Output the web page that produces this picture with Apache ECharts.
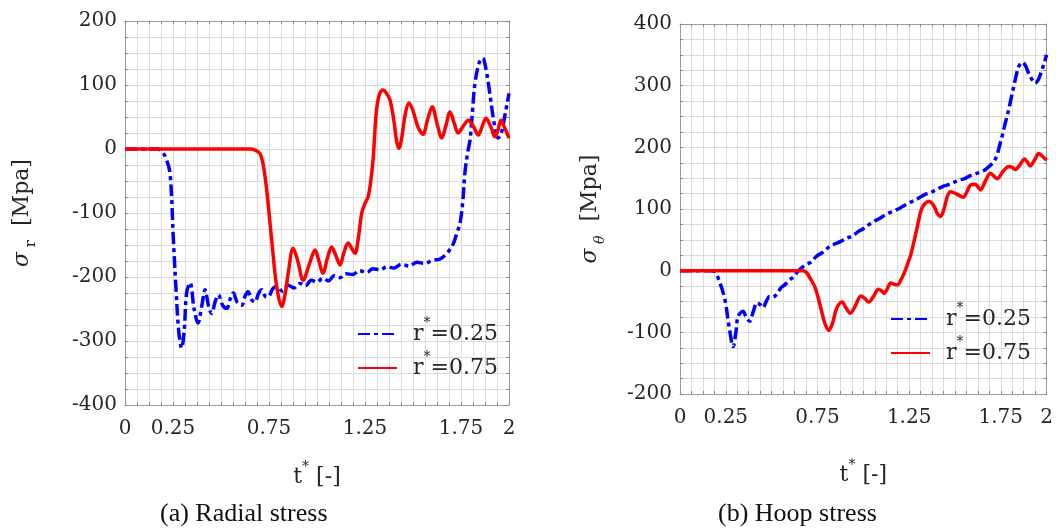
<!DOCTYPE html>
<html><head><meta charset="utf-8">
<script src="https://cdn.jsdelivr.net/npm/echarts@6/dist/echarts.min.js"></script>
<style>html,body{margin:0;padding:0;background:#fff}#c{width:1056px;height:532px}</style>
</head><body><div id="c"></div>
<script>
// ---- Data: (a) Radial stress ----
const radialBlueT = [0,0.1,0.17,0.19,0.21,0.234,0.252,0.266,0.28,0.295,0.308,0.321,0.339,0.36,0.38,0.40,0.417,0.435,0.451,0.47,0.486,0.51,0.53,0.547,0.564,0.585,0.608,0.625,0.641,0.66,0.677,0.695,0.712,0.73,0.745,0.77,0.79,0.82,0.85,0.88,0.911,0.94,0.97,1.0,1.03,1.06,1.09,1.12,1.15,1.188,1.22,1.26,1.29,1.33,1.363,1.4,1.44,1.48,1.52,1.56,1.6,1.64,1.67,1.69,1.71,1.73,1.745,1.76,1.77,1.785,1.797,1.81,1.823,1.845,1.863,1.88,1.90,1.92,1.943,1.96,1.98,2.0];
const radialBlueV = [0,0,0,-3,-12,-37,-142,-220,-285,-311,-285,-225,-209,-250,-272,-245,-220,-245,-257,-238,-228,-245,-249,-235,-225,-240,-244,-230,-223,-236,-239,-226,-220,-230,-231,-218,-215,-222,-213,-217,-210,-214,-205,-208,-202,-206,-198,-201,-195,-196,-190,-193,-187,-189,-184,-186,-180,-183,-177,-179,-174,-172,-165,-158,-148,-130,-116,-80,-38,-5,14,60,103,135,142,125,87,45,17,25,55,87];
const radialRedT = [0,0.6,0.65,0.68,0.703,0.72,0.738,0.764,0.79,0.816,0.835,0.85,0.876,0.90,0.928,0.96,0.99,1.01,1.03,1.055,1.076,1.10,1.12,1.14,1.162,1.18,1.198,1.215,1.233,1.25,1.266,1.28,1.292,1.30,1.31,1.325,1.344,1.36,1.38,1.40,1.415,1.427,1.44,1.46,1.479,1.50,1.525,1.552,1.575,1.60,1.625,1.65,1.67,1.693,1.715,1.735,1.76,1.788,1.815,1.84,1.86,1.88,1.905,1.927,1.943,1.958,1.975,2.0];
const radialRedV = [0,0,0,-2,-7,-25,-64,-142,-215,-246,-225,-194,-155,-175,-205,-180,-158,-175,-194,-170,-153,-168,-181,-162,-147,-155,-163,-140,-100,-85,-75,-50,-17,20,61,85,92,88,77,45,12,1,15,55,72,60,35,23,45,66,40,17,35,58,40,25,35,45,35,22,35,48,35,19,30,45,35,17];

// ---- Data: (b) Hoop stress ----
const hoopBlueT = [0,0.17,0.19,0.217,0.245,0.27,0.29,0.305,0.317,0.344,0.36,0.38,0.40,0.42,0.437,0.453,0.47,0.489,0.505,0.525,0.55,0.571,0.598,0.62,0.643,0.665,0.688,0.715,0.743,0.78,0.815,0.85,0.88,0.91,0.942,0.97,1.0,1.033,1.06,1.09,1.123,1.16,1.19,1.214,1.25,1.28,1.304,1.34,1.37,1.395,1.43,1.46,1.486,1.52,1.55,1.576,1.61,1.64,1.667,1.69,1.712,1.73,1.745,1.757,1.775,1.793,1.808,1.821,1.835,1.848,1.87,1.885,1.902,1.92,1.938,1.955,1.975,1.99,2.0];
const hoopBlueV = [0,0,-2,-19,-47,-95,-123,-100,-74,-66,-75,-82,-66,-52,-55,-60,-50,-42,-43,-39,-28,-23,-15,-10,-1,5,10,14,23,30,39,44,48,53,56,63,68,75,80,85,91,96,100,104,110,114,118,124,127,131,136,139,142,147,149,153,157,160,164,170,177,188,205,218,240,261,282,299,318,331,338,332,320,310,304,310,326,340,350];
const hoopRedT = [0,0.65,0.67,0.69,0.715,0.734,0.75,0.77,0.79,0.812,0.832,0.852,0.868,0.884,0.905,0.929,0.955,0.987,1.008,1.029,1.055,1.083,1.1,1.114,1.13,1.15,1.168,1.187,1.205,1.223,1.24,1.259,1.277,1.295,1.315,1.337,1.36,1.385,1.405,1.422,1.44,1.458,1.476,1.51,1.545,1.565,1.585,1.61,1.625,1.64,1.665,1.693,1.71,1.73,1.76,1.793,1.81,1.83,1.855,1.88,1.895,1.91,1.935,1.957,1.975,2.0];
const hoopRedV = [0,0,0,-3,-15,-25,-40,-63,-85,-97,-85,-63,-54,-51,-60,-69,-58,-41,-45,-51,-42,-30,-33,-37,-30,-20,-22,-23,-15,-4,10,26,48,72,98,109,112,105,92,88,100,120,128,124,119,128,139,140,136,131,145,158,154,149,160,169,168,164,172,181,176,170,180,190,186,179];

const xTickLabels = [0,0.25,0.75,1.25,1.75,2];
const radialYTicks = [-400,-300,-200,-100,0,100,200];
const hoopYTicks = [-200,-100,0,100,200,300,400];
const seriesNames = ['r*=0.25','r*=0.75'];

const zip = (t, v) => t.map((x, i) => [x, v[i]]);

const FONT = 'DejaVu Serif';
const gridColor = '#dcdcdc';
const frameColor = '#9a9a9a';
const blue = '#0000ff', red = '#ff0000';
const dashDot = [12,4,4,4];
const txt = '#262626';

function xAxisBottom(gi, gap) {
  return {
    type:'value', gridIndex:gi, min:0, max:2, interval:0.0625, position:'bottom',
    axisLine:{show:true, onZero:false, lineStyle:{color:frameColor, width:1}},
    axisTick:{show:true, inside:true, length:3, lineStyle:{color:'#888'}},
    splitLine:{show:true, lineStyle:{color:gridColor, width:1}},
    axisLabel:{customValues:xTickLabels, fontFamily:FONT, fontSize:20, color:txt, margin:14,
      formatter: v => String(v)},
    name:'{t|t}{s|*}{t| [-]}', nameLocation:'middle', nameGap:gap,
    nameTextStyle:{rich:{t:{fontFamily:FONT, fontSize:22, color:txt, lineHeight:34},
                        s:{fontFamily:FONT, fontSize:14, color:txt, lineHeight:14, verticalAlign:'top'}}}
  };
}
function xAxisTop(gi) {
  return {type:'value', gridIndex:gi, min:0, max:2, interval:0.0625, position:'top',
    axisLine:{show:true, onZero:false, lineStyle:{color:frameColor}},
    axisTick:{show:true, inside:true, length:3, lineStyle:{color:'#888'}},
    axisLabel:{show:false}, splitLine:{show:false}};
}
function yAxisLeft(gi, min, max, ticks, nameRich, gap) {
  return {
    type:'value', gridIndex:gi, min:min, max:max, interval:25, position:'left',
    axisLine:{show:true, onZero:false, lineStyle:{color:frameColor}},
    axisTick:{show:true, inside:true, length:3, lineStyle:{color:'#888'}},
    splitLine:{show:true, lineStyle:{color:gridColor}},
    axisLabel:{customValues:ticks, fontFamily:FONT, fontSize:20, color:txt, margin:8},
    name:nameRich, nameLocation:'middle', nameGap:gap,
    nameTextStyle:{rich:{
      g:{fontFamily:FONT, fontSize:22, fontStyle:'italic', color:txt, lineHeight:34},
      sub:{fontFamily:FONT, fontSize:15, color:txt, lineHeight:15, verticalAlign:'bottom'},
      subi:{fontFamily:FONT, fontSize:14, fontStyle:'italic', color:txt, lineHeight:15, verticalAlign:'bottom'},
      n:{fontFamily:FONT, fontSize:22, color:txt, lineHeight:34}}}
  };
}
function yAxisRight(gi, min, max) {
  return {type:'value', gridIndex:gi, min:min, max:max, interval:25, position:'right',
    axisLine:{show:true, onZero:false, lineStyle:{color:frameColor}},
    axisTick:{show:true, inside:true, length:3, lineStyle:{color:'#888'}},
    axisLabel:{show:false}, splitLine:{show:false}};
}
function line(name, data, xi, yi, color, type) {
  return {type:'line', name:name, xAxisIndex:xi, yAxisIndex:yi, data:data,
    showSymbol:false, symbol:'none', smooth:0.35, clip:true,
    lineStyle:{color:color, width:3.5, type:type}, itemStyle:{color:color}};
}
const legendRich = {
  sp:{width:11},
  b:{fontFamily:FONT, fontSize:22, color:txt, lineHeight:36},
  s:{fontFamily:FONT, fontSize:14, color:txt, lineHeight:14, verticalAlign:'top'}
};
const legendFmt = n => n === seriesNames[0] ? '{sp|}{b|r}{s|*}{b|=0.25}' : '{sp|}{b|r}{s|*}{b|=0.75}';
function legend(left, top) {
  return {data:seriesNames, left:left, top:top, orient:'vertical', itemWidth:39, itemHeight:14, itemGap:5,
    formatter:legendFmt, textStyle:{rich:legendRich}, selectedMode:false,
    itemStyle:{opacity:0, borderWidth:0}};
}

const chart = echarts.init(document.getElementById('c'), null, {renderer:'canvas'});
chart.setOption({
  animation:false,
  backgroundColor:'#ffffff',
  grid:[
    {left:125, top:21, width:384, height:384, containLabel:false},
    {left:680, top:24, width:368, height:370, containLabel:false}
  ],
  xAxis:[xAxisBottom(0, 55), xAxisTop(0), xAxisBottom(1, 64), xAxisTop(1)],
  yAxis:[
    yAxisLeft(0, -400, 200, radialYTicks, '{g|σ}{sub| r}{n|  [Mpa]}', 86),
    yAxisRight(0, -400, 200),
    yAxisLeft(1, -200, 400, hoopYTicks, '{g|σ}{subi| θ}{n|  [Mpa]}', 73),
    yAxisRight(1, -200, 400)
  ],
  legend:[legend(352, 311), legend(885, 296)],
  series:[
    line(seriesNames[0], zip(radialBlueT, radialBlueV), 0, 0, blue, dashDot),
    line(seriesNames[1], zip(radialRedT, radialRedV), 0, 0, red, 'solid'),
    line(seriesNames[0], zip(hoopBlueT, hoopBlueV), 2, 2, blue, dashDot),
    line(seriesNames[1], zip(hoopRedT, hoopRedV), 2, 2, red, 'solid')
  ],
  graphic:[
    {type:'text', left:160, top:501, style:{text:'(a) Radial stress', font:'26px "Liberation Serif"', fill:'#111'}},
    {type:'text', left:718, top:501, style:{text:'(b) Hoop stress', font:'26px "Liberation Serif"', fill:'#111'}}
  ]
});
</script></body></html>
